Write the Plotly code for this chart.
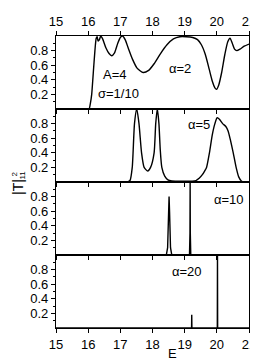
import plotly.graph_objects as go

# alpha = 2
E1 = [15.0, 16.0, 16.03, 16.07, 16.11, 16.16, 16.21, 16.25, 16.28, 16.31, 16.35, 16.39, 16.45,
      16.55, 16.65, 16.73, 16.82, 16.92, 17.0, 17.07, 17.15, 17.25, 17.38, 17.52, 17.71, 17.88,
      18.05, 18.25, 18.45, 18.65, 18.85, 19.05, 19.25, 19.4, 19.52, 19.64, 19.76, 19.86, 19.94,
      19.99, 20.06, 20.15, 20.25, 20.34, 20.41, 20.48, 20.55, 20.62, 20.72, 20.85, 21.0]
T1 = [0.0, 0.0, 0.0, 0.08, 0.2, 0.5, 0.8, 0.97, 0.99, 0.93, 0.95, 1.0, 0.96,
      0.84, 0.76, 0.73, 0.77, 0.9, 0.98, 1.0, 0.95, 0.83, 0.68, 0.56, 0.5, 0.53,
      0.62, 0.76, 0.88, 0.96, 0.99, 0.99, 0.98, 0.95, 0.88, 0.75, 0.55, 0.38, 0.29,
      0.27, 0.33, 0.5, 0.75, 0.92, 0.97, 0.9, 0.82, 0.8, 0.82, 0.86, 0.89]

# alpha = 5
E2 = [15.0, 17.2, 17.3, 17.37, 17.44, 17.51, 17.58, 17.66, 17.74, 17.85, 17.94, 18.05, 18.1,
      18.15, 18.2, 18.24, 18.29, 18.38, 18.48, 18.6, 19.0, 19.35, 19.45, 19.55, 19.62, 19.68,
      19.77, 19.86, 19.94, 20.01, 20.08, 20.18, 20.28, 20.35, 20.42, 20.51, 20.6, 20.68, 20.77,
      20.85, 21.0]
T2 = [0.0, 0.0, 0.02, 0.2, 0.8, 1.0, 0.8, 0.4, 0.2, 0.15, 0.2, 0.4, 0.8,
      1.0, 0.8, 0.45, 0.2, 0.08, 0.03, 0.015, 0.01, 0.02, 0.05, 0.1, 0.15, 0.2,
      0.4, 0.65, 0.8, 0.88, 0.86, 0.8, 0.76, 0.7, 0.58, 0.4, 0.2, 0.07, 0.01,
      0.0, 0.0]

# alpha = 10
E3 = [15.0, 18.43, 18.47, 18.5, 18.515, 18.53, 18.56, 18.6, 19.15, 19.165, 19.17, 19.175, 19.19, 21.0]
T3 = [0.0, 0.0, 0.1, 0.6, 0.8, 0.6, 0.1, 0.0, 0.0, 0.3, 1.0, 0.3, 0.0, 0.0]

# alpha = 20
E4 = [15.0, 19.215, 19.22, 19.225, 20.015, 20.02, 20.025, 21.0]
T4 = [0.0, 0.0, 0.18, 0.0, 0.0, 1.0, 0.0, 0.0]

panel_labels = ["α=2", "α=5", "α=10", "α=20"]
label_pos = [(18.87, 0.55), (19.45, 0.79), (20.37, 0.755), (19.06, 0.78)]
x_ticks = [15, 16, 17, 18, 19, 20, 21]
y_ticks = [0.2, 0.4, 0.6, 0.8]
y_minor = [0.1, 0.3, 0.5, 0.7, 0.9]

FONT = "Arial, Liberation Sans, sans-serif"
OFF = 8  # page body margin
W, H = 258 - OFF, 364 - OFF
L, R, T, B = 56 - OFF, 9, 36 - OFF, 36
plot_h = H - T - B
plot_w = W - L - R

fig = go.Figure()
series = [(E1, T1), (E2, T2), (E3, T3), (E4, T4)]
layout = {}
for i, (E, Tv) in enumerate(series):
    suffix = "" if i == 0 else str(i + 1)
    fig.add_trace(go.Scatter(x=E, y=Tv, mode="lines", xaxis="x" + suffix, yaxis="y" + suffix,
                             line=dict(color="black", width=1.4,
                                       shape="spline" if i < 2 else "linear", smoothing=0.6),
                             showlegend=False))
    top = 1 - i / 4
    bot = 1 - (i + 1) / 4
    xa = dict(range=[15, 21], tickvals=x_ticks, ticks="outside", ticklen=4, tickwidth=1,
              tickcolor="black", showline=True, linecolor="black", linewidth=1.2,
              showgrid=False, zeroline=False, automargin=False, anchor="y" + suffix,
              domain=[0, 1], tickfont=dict(family=FONT, size=13, color="black"))
    if i == 0:
        xa.update(side="top", showticklabels=True, mirror="ticks")
    elif i == 3:
        xa.update(showticklabels=True, mirror=True)
    else:
        xa.update(showticklabels=False, mirror=True)
    ya = dict(range=[0, 1.0], tickvals=y_ticks, ticks="outside", ticklen=4, tickwidth=1,
              tickcolor="black", showline=True, linecolor="black", linewidth=1.2,
              mirror="ticks", showgrid=False, zeroline=False, automargin=False,
              anchor="x" + suffix, domain=[bot, top],
              minor=dict(tickvals=y_minor, ticks="outside", ticklen=2, tickcolor="black"),
              tickfont=dict(family=FONT, size=13, color="black"))
    layout["xaxis" + suffix] = xa
    layout["yaxis" + suffix] = ya

def px_x(p):
    return (p - OFF - L) / plot_w

def px_y(p):
    return (H - B - (p - OFF)) / plot_h

def note(x, y, text, xref, yref, size=13, angle=0, pad=1):
    return dict(x=x, y=y, xref=xref, yref=yref, text=text, showarrow=False,
                xanchor="center", yanchor="middle", textangle=angle, borderpad=pad,
                font=dict(family=FONT, size=size, color="black"))

annots = []
for i, (lab, (ax, ay)) in enumerate(zip(panel_labels, label_pos)):
    suffix = "" if i == 0 else str(i + 1)
    annots.append(note(ax, ay, lab, "x" + suffix, "y" + suffix))
annots.append(note(16.83, 0.47, "A=4", "x", "y"))
annots.append(note(16.94, 0.21, "σ=1/10", "x", "y"))
annots.append(note(px_x(172), px_y(353), "E", "paper", "paper"))
# y-axis label |T|^2_11 (stacked indices)
annots.append(note(px_x(18), px_y(187), "|T|", "paper", "paper", size=14, angle=-90, pad=0))
annots.append(note(px_x(13.5), px_y(174), "2", "paper", "paper", size=8, angle=-90, pad=0))
annots.append(note(px_x(21.5), px_y(175), "11", "paper", "paper", size=8, angle=-90, pad=0))

fig.update_layout(width=W, height=H, margin=dict(l=L, r=R, t=T, b=B, autoexpand=False),
                  plot_bgcolor="white", paper_bgcolor="white", annotations=annots,
                  font=dict(family=FONT, size=13, color="black"), **layout)

fig.write_html("out.html")
